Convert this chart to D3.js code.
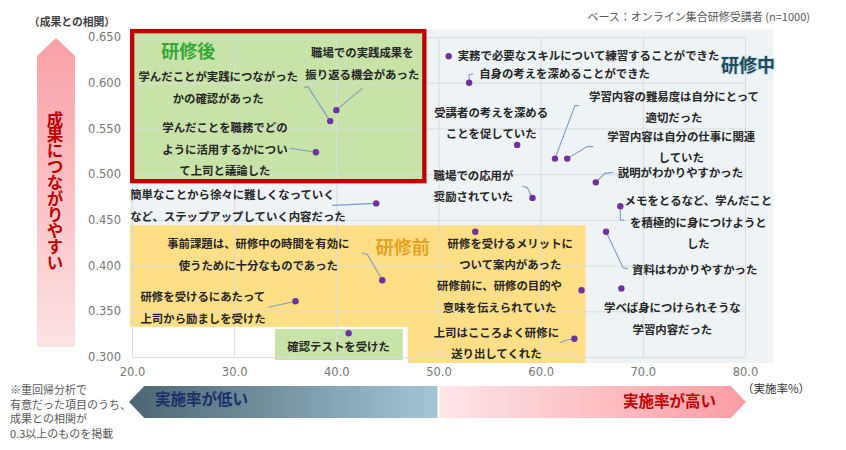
<!DOCTYPE html>
<html>
<head>
<meta charset="utf-8">
<script src="https://cdn.jsdelivr.net/npm/d3@7"></script>
<style>
  body { margin: 0; background: #fff; }
</style>
</head>
<body>
<script>
// Paramètres
const width = 846;
const height = 450;
const jp = '"Noto Sans CJK JP", "Noto Sans", sans-serif';

// Données
const xTicks = [20, 30, 40, 50, 60, 70, 80];
const yTicks = [0.30, 0.35, 0.40, 0.45, 0.50, 0.55, 0.60, 0.65];

const items = [
  '職場での実践成果を\n振り返る機会があった',
  '学んだことが実践につながった\nかの確認があった',
  '学んだことを職務でどの\nように活用するかについ\nて上司と議論した',
  '実務で必要なスキルについて練習することができた',
  '自身の考えを深めることができた',
  '受講者の考えを深める\nことを促していた',
  '学習内容の難易度は自分にとって\n適切だった',
  '学習内容は自分の仕事に関連\nしていた',
  '説明がわかりやすかった',
  '職場での応用が\n奨励されていた',
  'メモをとるなど、学んだこと\nを積極的に身につけようと\nした',
  '資料はわかりやすかった',
  '研修を受けるメリットに\nついて案内があった',
  '研修前に、研修の目的や\n意味を伝えられていた',
  '学べば身につけられそうな\n学習内容だった',
  '上司はこころよく研修に\n送り出してくれた',
  '簡単なことから徐々に難しくなっていく\nなど、ステップアップしていく内容だった',
  '事前課題は、研修中の時間を有効に\n使うために十分なものであった',
  '研修を受けるにあたって\n上司から励ましを受けた',
  '確認テストを受けた'
];
const rates = [40.0, 39.4, 38.0, 51.0, 53.0, 57.7, 61.4, 62.6, 65.4, 59.2,
               67.8, 66.4, 53.6, 64.0, 67.9, 63.3, 43.9, 44.5, 36.0, 41.2];
const corrs = [0.570, 0.558, 0.524, 0.629, 0.600, 0.532, 0.517, 0.517, 0.491, 0.474,
               0.465, 0.437, 0.437, 0.373, 0.375, 0.320, 0.468, 0.384, 0.361, 0.326];

const phases = ['研修後', '研修中', '研修前'];
const notes = ['※重回帰分析で', '有意だった項目のうち、', '成果との相関が', '0.3以上のものを掲載'];

// placement des étiquettes (décalage en px depuis le point)
const labelPos = [
  { dx: 26, dy: -57, a: 'middle', leader: [[26, -22], [0, 0]] },
  { dx: -112, dy: -44, a: 'middle', leader: [[-26, -34], [-22, -34], [0, 0]] },
  { dx: -91, dy: -24, a: 'middle', leader: [[-26, -4], [0, 0]] },
  { dx: 9, dy: 0, a: 'start' },
  { dx: 10, dy: -9, a: 'start', leader: [[0, 0], [0, -8], [4, -9]] },
  { dx: -26, dy: -32, a: 'middle' },
  { dx: 119, dy: -62, a: 'middle', leader: [[0, 0], [20, -53], [24, -53]] },
  { dx: 114, dy: -22, a: 'middle', leader: [[0, 0], [20, -12], [26, -12]] },
  { dx: 22, dy: -9, a: 'start', leader: [[0, 0], [9, -9], [17, -10]] },
  { dx: -59, dy: -22, a: 'middle', leader: [[0, 0], [-5, -10], [-10, -12]] },
  { dx: 78, dy: -5, a: 'middle', leader: [[0, 0], [0, 14], [4, 14]] },
  { dx: 26, dy: 38, a: 'start', leader: [[0, 0], [17, 36], [22, 37]] },
  { dx: 35, dy: 12, a: 'middle' },
  { dx: -82, dy: -4, a: 'middle' },
  { dx: 51, dy: 20, a: 'middle' },
  { dx: -78, dy: -6, a: 'middle', leader: [[-14, 4], [-7, 1], [0, 0]] },
  { dx: -246, dy: -8, a: 'start', leader: [[-44, 2], [0, 0]] },
  { dx: -124, dy: -36, a: 'middle', leader: [[-20, -27], [-15, -26], [0, 0]] },
  { dx: -155, dy: -4, a: 'start', leader: [[-27, 6], [0, 0]] },
  { dx: -10, dy: 14, a: 'middle' }
];

const data = items.map((t, i) => ({ label: t, rate: rates[i], corr: corrs[i], pos: labelPos[i] }));

// Créer l'élément SVG
const svg = d3.select('body')
  .append('svg')
  .attr('width', width)
  .attr('height', height)
  .attr('style', `font-family: ${jp}`);

// Échelles
const x = d3.scaleLinear()
  .domain([20, 80])
  .range([132, 745]);

const y = d3.scaleLinear()
  .domain([0.30, 0.65])
  .range([357, 37]);

// dégradés
const defs = svg.append('defs');
function grad(id, x2, y2, stops) {
  const g = defs.append('linearGradient').attr('id', id)
    .attr('x1', 0).attr('y1', 0).attr('x2', x2).attr('y2', y2);
  stops.forEach((c, i) => g.append('stop').attr('offset', i / (stops.length - 1)).attr('stop-color', c));
}
grad('gUp', 0, 1, ['#f9a0a5', '#fde3e4']);
grad('gLow', 1, 0, ['#4d6572', '#a3c6d6']);
grad('gHigh', 1, 0, ['#fde6e8', '#fb9ca2']);

// Zones de fond
svg.append('rect')
  .attr('x', x(19.8)).attr('y', y(0.658))
  .attr('width', x(82.8) - x(19.8)).attr('height', y(0.2935) - y(0.658))
  .attr('fill', '#eef3f6');

svg.append('rect')
  .attr('x', x(19.8)).attr('y', y(0.333))
  .attr('width', x(47.0) - x(19.8)).attr('height', y(0.2935) - y(0.333))
  .attr('fill', '#fff');

const before = [[19.8, 0.444], [64.4, 0.444], [64.4, 0.2935], [47.0, 0.2935], [47.0, 0.333], [19.8, 0.333]];
svg.append('path')
  .attr('d', d3.line().x(d => x(d[0])).y(d => y(d[1]))(before) + 'Z')
  .attr('fill', '#ffdf85');

svg.append('rect')
  .attr('x', x(20.0)).attr('y', y(0.6566))
  .attr('width', x(48.6) - x(20.0)).attr('height', y(0.4925) - y(0.6566))
  .attr('fill', '#c8e3a7');

svg.append('rect')
  .attr('x', x(34.0)).attr('y', y(0.3306))
  .attr('width', x(46.5) - x(34.0)).attr('height', y(0.2967) - y(0.3306))
  .attr('fill', '#c8e3a7');

// Grille
svg.append('g')
  .attr('transform', `translate(${x(20)}, 0)`)
  .call(d3.axisLeft(y).tickValues(yTicks).tickSize(-(x(80) - x(20))).tickFormat(''))
  .call(g => g.select('.domain').remove())
  .call(g => g.selectAll('line').attr('stroke', '#d8dcdf'));

svg.append('g')
  .attr('transform', `translate(0, ${y(0.30)})`)
  .call(d3.axisBottom(x).tickValues(xTicks).tickSize(-(y(0.30) - y(0.65))).tickFormat(''))
  .call(g => g.select('.domain').remove())
  .call(g => g.selectAll('line').attr('stroke', '#d8dcdf'));

// cadre rouge (研修後)
svg.append('rect')
  .attr('x', x(20.0) + 1).attr('y', y(0.6566) + 1)
  .attr('width', x(48.6) - x(20.0)).attr('height', y(0.4925) - y(0.6566))
  .attr('fill', 'none')
  .attr('stroke', '#7a1a1a').attr('stroke-opacity', 0.35)
  .attr('stroke-width', 4);
svg.append('rect')
  .attr('x', x(20.0)).attr('y', y(0.6566))
  .attr('width', x(48.6) - x(20.0)).attr('height', y(0.4925) - y(0.6566))
  .attr('fill', 'none')
  .attr('stroke', '#c00000')
  .attr('stroke-width', 4);

// Axes
svg.append('g')
  .attr('transform', `translate(${x(20)}, 0)`)
  .call(d3.axisLeft(y).tickValues(yTicks).tickSize(0).tickPadding(11).tickFormat(d3.format('.3f')))
  .call(g => g.select('.domain').remove())
  .call(g => g.selectAll('text')
    .attr('fill', '#767676')
    .style('font', '11.5px "DejaVu Sans", sans-serif'));

svg.append('g')
  .attr('transform', `translate(0, ${y(0.30)})`)
  .call(d3.axisBottom(x).tickValues(xTicks).tickSize(0).tickPadding(11).tickFormat(d3.format('.1f')))
  .call(g => g.select('.domain').remove())
  .call(g => g.selectAll('text')
    .attr('fill', '#767676')
    .style('font', '11.5px "DejaVu Sans", sans-serif'));

// Lignes de rappel
const line = d3.line();
svg.append('g')
  .selectAll('path')
  .data(data.filter(d => d.pos.leader))
  .enter()
  .append('path')
  .attr('d', d => line(d.pos.leader.map(p => [x(d.rate) + p[0], y(d.corr) + p[1]])))
  .attr('fill', 'none')
  .attr('stroke', '#7b9cd2')
  .attr('stroke-width', 1.1);

// Points
svg.append('g')
  .selectAll('circle')
  .data(data)
  .enter()
  .append('circle')
  .attr('cx', d => x(d.rate))
  .attr('cy', d => y(d.corr))
  .attr('r', 3.2)
  .attr('fill', '#7030a0');

// Étiquettes
const labels = svg.append('g')
  .style('font-size', '11.4px')
  .style('font-weight', 700)
  .attr('fill', '#262626')
  .selectAll('text')
  .data(data)
  .enter()
  .append('text')
  .attr('text-anchor', d => d.pos.a)
  .attr('x', d => x(d.rate) + d.pos.dx)
  .attr('y', d => y(d.corr) + d.pos.dy);

labels.selectAll('tspan')
  .data(d => d.label.split('\n').map(s => ({ s, d })))
  .enter()
  .append('tspan')
  .attr('x', o => x(o.d.rate) + o.d.pos.dx)
  .attr('dy', (o, i) => i === 0 ? '0.35em' : '21.5px')
  .text(o => o.s);

// Titres des phases
svg.append('text')
  .attr('x', x(25.5)).attr('y', y(0.6336)).attr('dy', '0.35em')
  .attr('text-anchor', 'middle')
  .attr('fill', '#35a83a')
  .style('font-size', '18px').style('font-weight', 700)
  .text(phases[0]);
svg.append('text')
  .attr('x', x(80.3)).attr('y', y(0.6)).attr('dy', '-0.6em')
  .attr('text-anchor', 'middle')
  .attr('fill', '#1d4b5e')
  .style('font-size', '18px').style('font-weight', 700)
  .style('paint-order', 'stroke')
  .attr('stroke', '#cfe0e8').attr('stroke-width', 2)
  .text(phases[1]);
svg.append('text')
  .attr('x', x(46.5)).attr('y', y(0.4)).attr('dy', '-0.65em')
  .attr('text-anchor', 'middle')
  .attr('fill', '#e6a21e')
  .style('font-size', '18px').style('font-weight', 700)
  .text(phases[2]);

// Flèche verticale
const arrowTop = y(0.65) + 1;
svg.append('path')
  .attr('d', `M56,${arrowTop} L75,${arrowTop + 18} L75,347 L37,347 L37,${arrowTop + 18} Z`)
  .attr('fill', 'url(#gUp)');
svg.append('text')
  .attr('x', 55).attr('y', 111)
  .attr('fill', '#c00000')
  .style('font-size', '16.5px').style('font-weight', 700)
  .style('writing-mode', 'vertical-rl')
  .style('letter-spacing', '-0.6px')
  .text('成果につながりやすい');

// Flèches du bas
const ay0 = 386, ay1 = 418, am = (ay0 + ay1) / 2;
svg.append('path')
  .attr('d', `M${x(20) - 3},${am} L${x(21.2)},${ay0} L${x(50) - 1},${ay0} L${x(50) - 1},${ay1} L${x(21.2)},${ay1} Z`)
  .attr('fill', 'url(#gLow)');
svg.append('path')
  .attr('d', `M${x(50) + 1},${ay0} L${x(78.6)},${ay0} L${x(80) + 1},${am} L${x(78.6)},${ay1} L${x(50) + 1},${ay1} Z`)
  .attr('fill', 'url(#gHigh)');

svg.append('text')
  .attr('x', 155).attr('y', 400).attr('dy', '0.35em')
  .attr('fill', '#1b2f6a')
  .style('font-size', '15.5px').style('font-weight', 700)
  .text('実施率が低い');
svg.append('text')
  .attr('x', 716).attr('y', 402).attr('dy', '0.35em')
  .attr('text-anchor', 'end')
  .attr('fill', '#c00000')
  .style('font-size', '15.5px').style('font-weight', 700)
  .text('実施率が高い');

// Textes divers
svg.append('text')
  .attr('x', 72).attr('y', 22).attr('dy', '0.35em')
  .attr('text-anchor', 'middle')
  .attr('fill', '#404040')
  .style('font-size', '10.8px').style('font-weight', 700)
  .text('（成果との相関）');

svg.append('text')
  .attr('x', 810).attr('y', 17).attr('dy', '0.35em')
  .attr('text-anchor', 'end')
  .attr('fill', '#595959')
  .style('font-size', '11px')
  .text('ベース：オンライン集合研修受講者 (n=1000)');

svg.append('text')
  .attr('x', 776).attr('y', 389).attr('dy', '0.35em')
  .attr('text-anchor', 'middle')
  .attr('fill', '#333')
  .style('font-size', '11.5px')
  .text('（実施率%）');

svg.append('g')
  .attr('fill', '#595959')
  .style('font-size', '11px')
  .selectAll('text')
  .data(notes)
  .enter()
  .append('text')
  .attr('x', 10)
  .attr('y', (d, i) => 390 + i * 14.7)
  .attr('dy', '0.35em')
  .text(d => d);
</script>
</body>
</html>
